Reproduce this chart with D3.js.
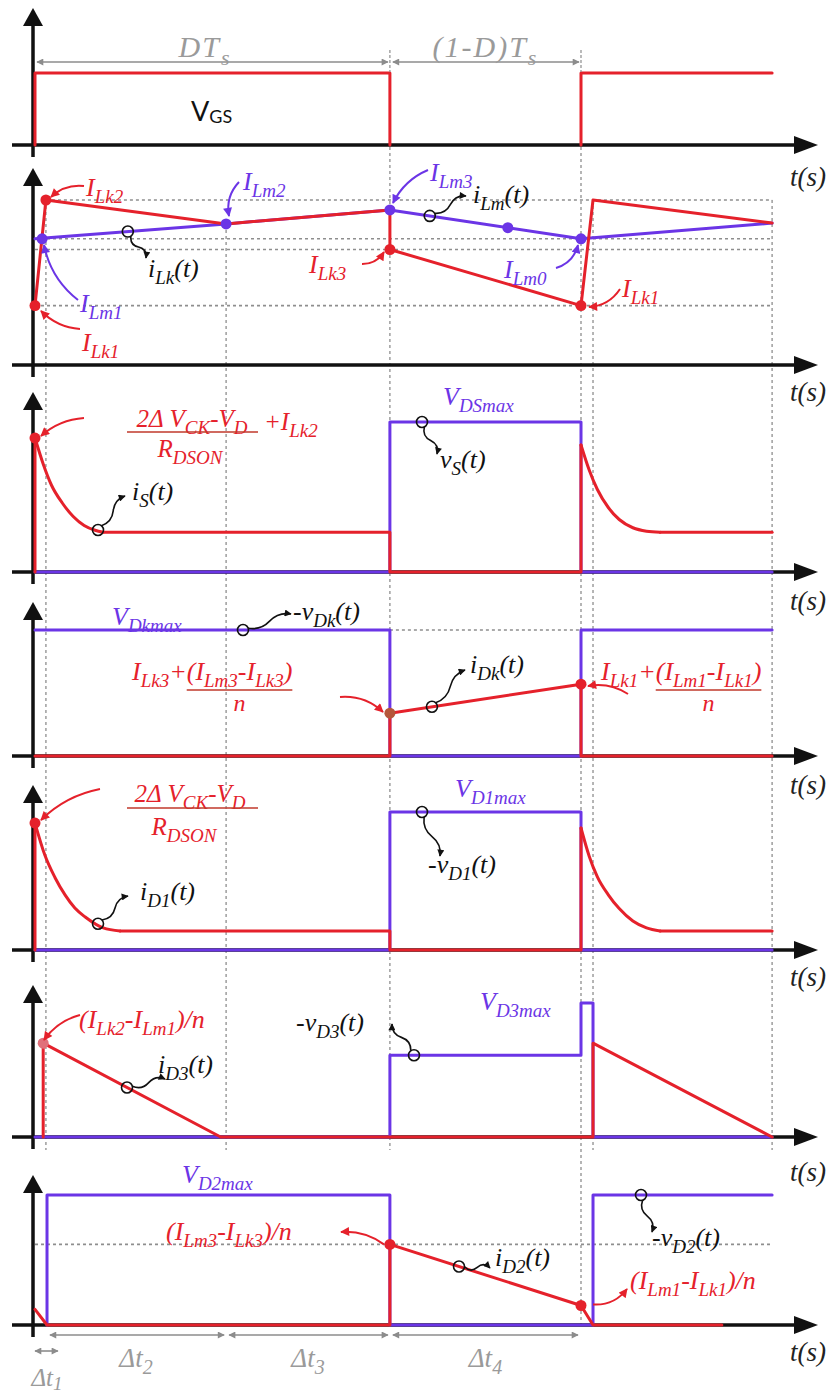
<!DOCTYPE html>
<html>
<head>
<meta charset="utf-8">
<script src="https://cdn.jsdelivr.net/npm/d3@7"></script>
<style>
  html, body { margin: 0; padding: 0; background: #fff; }
  svg { display: block; }
  text { font-family: "Liberation Serif", "Times New Roman", serif; font-style: italic; }
</style>
</head>
<body>
<svg id="chart" width="827" height="1398"></svg>
<script>
// ---------------------------------------------------------------
// Time base: one switching period Ts = 1 (normalised)
// ---------------------------------------------------------------
const tMarks = [0, 0.02, 0.35, 0.65, 1.0, 1.022, 1.35];          // t0 .. t6
const gridT = [0.02, 0.35, 0.65, 1.0, 1.022, 1.35];               // dashed instants

// Gate drive
const vGS = [[0, 0], [0, 1], [0.65, 1], [0.65, 0], null, [1, 0], [1, 1], [1.35, 1]];

// Leakage and magnetising inductor currents
const iLk = [[0, 0.36], [0.02, 1], [0.35, 0.855], [0.65, 0.94], [0.65, 0.70], [1, 0.36], [1.022, 1], [1.35, 0.86]];
const iLm = [[0, 0.765], [0.35, 0.855], [0.65, 0.94], [1, 0.765], [1.35, 0.86]];
const iLkDots = [[0, 0.36], [0.02, 1], [0.65, 0.70], [1, 0.36]];
const iLmDots = [[0.013, 0.765], [0.35, 0.855], [0.65, 0.94], [0.866, 0.832], [1, 0.765]];
const iLevels = [1, 0.765, 0.70, 0.36];

// Switch voltage / current
const vS = [[0, 0], [0.65, 0], [0.65, 1], [1, 1], [1, 0], [1.35, 0]];
const iSOn = [[0, 0.893], [0.015, 0.72], [0.03, 0.58], [0.05, 0.46], [0.07, 0.37], [0.09, 0.31], [0.11, 0.278], [0.125, 0.265]];
const iSNext = [[1, 0.847], [1.015, 0.68], [1.03, 0.55], [1.05, 0.43], [1.07, 0.35], [1.095, 0.295], [1.12, 0.272], [1.145, 0.265]];

// Diode Dk
const vDk = [[0, 1], [0.65, 1], [0.65, 0], [1, 0], [1, 1], [1.35, 1]];
const iDk = [[0, 0], [0.65, 0], [0.65, 0.34], [1, 0.57], [1, 0], [1.35, 0]];
const iDkDots = [[0.65, 0.34], [1, 0.57]];

// Diode D1
const vD1 = [[0, 0], [0.65, 0], [0.65, 1], [1, 1], [1, 0], [1.35, 0]];
const iD1On = [[0, 0.92], [0.018, 0.688], [0.037, 0.522], [0.055, 0.399], [0.073, 0.304], [0.092, 0.239], [0.125, 0.16], [0.156, 0.138]];
const iD1Next = [[1, 0.884], [1.015, 0.68], [1.03, 0.53], [1.05, 0.40], [1.07, 0.30], [1.095, 0.21], [1.12, 0.16], [1.145, 0.138]];

// Diode D3
const vD3 = [[0, 0], [0.65, 0], [0.65, 0.61], [1, 0.61], [1, 1], [1.022, 1], [1.022, 0], [1.35, 0]];
const iD3 = [[0.015, 0], [0.015, 0.70], [0.34, 0], [1.022, 0], [1.022, 0.70], [1.35, 0]];
const iD3Dots = [[0.015, 0.70]];

// Diode D2
const vD2 = [[0.022, 0], [0.022, 1], [0.65, 1], [0.65, 0], [1.022, 0], [1.022, 1], [1.35, 1]];
const iD2 = [[0, 0.12], [0.022, 0], [0.65, 0], [0.65, 0.62], [1, 0.15], [1.022, 0], [1.258, 0]];
const iD2Dots = [[0.65, 0.62], [1, 0.15]];

// ---------------------------------------------------------------
// Layout
// ---------------------------------------------------------------
const RED = '#e5212b', BLUE = '#6b35e6', INK = '#111', GRID = '#8e8e8e', DIM = '#8c8c8c';
const panels = [
  { axis: 145,  ref: 73,   tip: 8,    ts: 186 },
  { axis: 365,  ref: 200,  tip: 168,  ts: 401 },
  { axis: 572,  ref: 422,  tip: 392,  ts: 610 },
  { axis: 756,  ref: 630,  tip: 602,  ts: 794 },
  { axis: 950,  ref: 812,  tip: 785,  ts: 986 },
  { axis: 1137, ref: 1003, tip: 985,  ts: 1181 },
  { axis: 1325, ref: 1195, tip: 1175, ts: 1361 }
];

const x = d3.scaleLinear().domain([0, 1]).range([35, 581]);
const ys = panels.map(p => d3.scaleLinear().domain([0, 1]).range([p.axis, p.ref]));

const svg = d3.select('#chart');
const defs = svg.append('defs');
function marker(id, color, w, h) {
  defs.append('marker').attr('id', id)
    .attr('viewBox', '0 0 10 10').attr('refX', 9).attr('refY', 5)
    .attr('markerUnits', 'userSpaceOnUse').attr('markerWidth', w).attr('markerHeight', h)
    .attr('orient', 'auto-start-reverse')
    .append('path').attr('d', 'M0,0 L10,5 L0,10 Z').attr('fill', color);
}
marker('mR', RED, 10, 9);
marker('mB', BLUE, 10, 9);
marker('mK', INK, 8, 7);
marker('mG', DIM, 8, 7);

// piecewise-linear lookup on a trace
function at(pts, t) {
  for (let i = 0; i < pts.length - 1; i++) {
    const a = pts[i], b = pts[i + 1];
    if (!a || !b || a[0] === b[0]) continue;
    if (t >= a[0] && t <= b[0]) return a[1] + (b[1] - a[1]) * (t - a[0]) / (b[0] - a[0]);
  }
  return 0;
}

function trace(g, y, pts, color, curve) {
  g.append('path').datum(pts)
    .attr('d', d3.line().defined(d => d).x(d => x(d[0])).y(d => y(d[1])).curve(curve || d3.curveLinear))
    .attr('fill', 'none').attr('stroke', color).attr('stroke-width', 3)
    .attr('stroke-linejoin', 'round').attr('stroke-linecap', 'round');
}
function dots(g, y, pts, color) {
  g.selectAll(null).data(pts).join('circle')
    .attr('cx', d => x(d[0])).attr('cy', d => y(d[1])).attr('r', 5.5).attr('fill', color);
}
// a trace with exponential decays: straight parts plus smooth decay arcs
function decayTrace(g, y, on, next, color) {
  const lvl = on[on.length - 1][1];
  const lvl2 = next[next.length - 1][1];
  trace(g, y, [[0, 0], on[0]], color);
  trace(g, y, on, color, d3.curveMonotoneX);
  trace(g, y, [on[on.length - 1], [0.65, lvl], [0.65, 0], [1, 0], next[0]], color);
  trace(g, y, next, color, d3.curveMonotoneX);
  trace(g, y, [next[next.length - 1], [1.35, lvl2]], color);
}

// text with subscripts: parts starting with '_' are lowered
function rich(g, px, py, parts, o = {}) {
  const size = o.size || 26, sub = o.sub || Math.round(size * 0.74), shift = o.shift != null ? o.shift : Math.round(size * 0.26);
  const t = g.append('text').attr('x', px).attr('y', py).attr('font-size', size)
    .attr('fill', o.color || INK).attr('text-anchor', o.anchor || 'start');
  if (o.family) t.style('font-family', o.family);
  if (o.upright) t.style('font-style', 'normal');
  if (o.spacing) t.attr('letter-spacing', o.spacing);
  let low = false;
  parts.forEach(p => {
    const isSub = p[0] === '_';
    const s = t.append('tspan').text(isSub ? p.slice(1) : p);
    if (isSub) s.attr('font-size', sub);
    if (isSub && !low) s.attr('dy', shift);
    if (!isSub && low) s.attr('dy', -shift);
    low = isSub;
  });
  return t;
}

// ring on a trace with a wavy lead to its name
function pointer(g, c, end) {
  g.append('circle').attr('cx', c[0]).attr('cy', c[1]).attr('r', 5.5)
    .attr('fill', 'none').attr('stroke', INK).attr('stroke-width', 1.6);
  const dx = end[0] - c[0], dy = end[1] - c[1], L = Math.hypot(dx, dy);
  const ux = dx / L, uy = dy / L;
  const s = [c[0] + ux * 5.5, c[1] + uy * 5.5];
  const ex = end[0] - s[0], ey = end[1] - s[1];
  const c1 = [s[0] + ex * 0.25 - uy * 6, s[1] + ey * 0.25 + ux * 6];
  const m = [s[0] + ex * 0.5, s[1] + ey * 0.5];
  g.append('path').attr('d', `M${s}Q${c1} ${m}T${end}`)
    .attr('fill', 'none').attr('stroke', INK).attr('stroke-width', 1.6).attr('marker-end', 'url(#mK)');
}

// curved call-out arrow
function bent(g, from, to, bend, color) {
  const m = [(from[0] + to[0]) / 2, (from[1] + to[1]) / 2];
  const dx = to[0] - from[0], dy = to[1] - from[1], L = Math.hypot(dx, dy);
  const c = [m[0] - dy / L * bend, m[1] + dx / L * bend];
  g.append('path').attr('d', `M${from}Q${c} ${to}`)
    .attr('fill', 'none').attr('stroke', color).attr('stroke-width', 2)
    .attr('marker-end', color === RED ? 'url(#mR)' : 'url(#mB)');
}

// dimension line with arrows on both ends
function dimension(g, x1, x2, y) {
  g.append('line').attr('x1', x1).attr('x2', x2).attr('y1', y).attr('y2', y)
    .attr('stroke', DIM).attr('stroke-width', 1.6)
    .attr('marker-start', 'url(#mG)').attr('marker-end', 'url(#mG)');
}

// ---------------------------------------------------------------
// Grid
// ---------------------------------------------------------------
const grid = svg.append('g');
const gridTop = [ys[1](1), ys[1](0.855), 147, 147, ys[1](1), ys[1](1)];
const gridBottom = [1150, 1150, 1150, 1325, 1150, 1150];
gridT.forEach((t, i) => {
  grid.append('line').attr('x1', x(t)).attr('x2', x(t)).attr('y1', gridTop[i]).attr('y2', gridBottom[i])
    .attr('stroke', GRID).attr('stroke-width', 1.3).attr('stroke-dasharray', '3,3');
});
iLevels.forEach((v, i) => {
  grid.append('line').attr('x1', x(i === 0 ? 0.02 : 0)).attr('x2', x(1.35))
    .attr('y1', ys[1](v)).attr('y2', ys[1](v))
    .attr('stroke', GRID).attr('stroke-width', 1.6).attr('stroke-dasharray', '3,3');
});
grid.append('line').attr('x1', x(0.65)).attr('x2', x(1)).attr('y1', ys[3](1)).attr('y2', ys[3](1))
  .attr('stroke', GRID).attr('stroke-width', 1.6).attr('stroke-dasharray', '3,3');
grid.append('line').attr('x1', x(0)).attr('x2', x(1.35)).attr('y1', ys[6](0.62)).attr('y2', ys[6](0.62))
  .attr('stroke', GRID).attr('stroke-width', 1.6).attr('stroke-dasharray', '3,3');

// ---------------------------------------------------------------
// Axes
// ---------------------------------------------------------------
panels.forEach(p => {
  const g = svg.append('g');
  g.append('line').attr('x1', 12).attr('x2', 798).attr('y1', p.axis).attr('y2', p.axis)
    .attr('stroke', INK).attr('stroke-width', 3.5);
  g.append('path').attr('d', `M818,${p.axis} L794,${p.axis - 9} L794,${p.axis + 9} Z`).attr('fill', INK);
  g.append('line').attr('x1', 33).attr('x2', 33).attr('y1', p.axis + 12).attr('y2', p.tip + 14)
    .attr('stroke', INK).attr('stroke-width', 3.5);
  g.append('path').attr('d', `M33,${p.tip} L23,${p.tip + 18} L43,${p.tip + 18} Z`).attr('fill', INK);
  rich(g, 826, p.ts, ['t(s)'], { size: 27, anchor: 'end', color: '#222' });
});

// ---------------------------------------------------------------
// Panel 1 : gate signal
// ---------------------------------------------------------------
{
  const g = svg.append('g'), y = ys[0];
  trace(g, y, vGS, RED);
  dimension(g, x(0) + 2, x(0.65) - 2, 62);
  dimension(g, x(0.65) + 3, x(1) - 2, 62);
  [0.65, 1].forEach(t => g.append('line').attr('x1', x(t)).attr('x2', x(t)).attr('y1', 50).attr('y2', 72)
    .attr('stroke', GRID).attr('stroke-width', 1.2).attr('stroke-dasharray', '3,2'));
  rich(g, 205, 57, ['DT', '_s'], { size: 30, color: '#9a9a9a', anchor: 'middle', spacing: 2 });
  rich(g, (x(0.65) + x(1)) / 2, 57, ['(1-D)T', '_s'], { size: 30, color: '#9a9a9a', anchor: 'middle', spacing: 2 });
  rich(g, 191, 121, ['V', '_GS'], { size: 27, sub: 18, shift: 2, color: INK, family: 'Lato, "Open Sans", sans-serif', upright: true });
}

// ---------------------------------------------------------------
// Panel 2 : iLk and iLm
// ---------------------------------------------------------------
{
  const g = svg.append('g'), y = ys[1];
  trace(g, y, iLm, BLUE);
  trace(g, y, iLk, RED);
  dots(g, y, iLkDots, RED);
  dots(g, y, iLmDots, BLUE);

  rich(g, 86, 196, ['I', '_Lk2'], { color: RED });
  bent(g, [84, 186], [51, 197], 8, RED);
  rich(g, 243, 190, ['I', '_Lm2'], { color: BLUE });
  bent(g, [239, 182], [229, 216], 9, BLUE);
  rich(g, 148, 277, ['i', '_Lk', '(t)'], { color: INK });
  pointer(g, [x(0.17), y(at(iLm, 0.17))], [146, 258]);
  rich(g, 80, 312, ['I', '_Lm1'], { color: BLUE });
  bent(g, [78, 300], [44, 245], -12, BLUE);
  rich(g, 82, 351, ['I', '_Lk1'], { color: RED });
  bent(g, [80, 329], [41, 311], -8, RED);

  rich(g, 430, 181, ['I', '_Lm3'], { color: BLUE });
  bent(g, [428, 170], [393, 203], 9, BLUE);
  rich(g, 473, 203, ['i', '_Lm', '(t)'], { color: INK });
  pointer(g, [x(0.723), y(at(iLm, 0.723))], [466, 196]);
  rich(g, 309, 273, ['I', '_Lk3'], { color: RED });
  bent(g, [362, 264], [384, 252], 7, RED);
  rich(g, 504, 278, ['I', '_Lm0'], { color: BLUE });
  bent(g, [556, 268], [578, 245], 9, BLUE);
  rich(g, 622, 297, ['I', '_Lk1'], { color: RED });
  bent(g, [620, 289], [589, 307], -9, RED);
}

// ---------------------------------------------------------------
// Panel 3 : switch
// ---------------------------------------------------------------
{
  const g = svg.append('g'), y = ys[2];
  trace(g, y, vS, BLUE);
  decayTrace(g, y, iSOn, iSNext, RED);
  dots(g, y, [iSOn[0]], RED);

  rich(g, 192, 427, ['2Δ V', '_CK', '-V', '_D'], { color: RED, anchor: 'middle', size: 25 });
  g.append('line').attr('x1', 127).attr('x2', 258).attr('y1', 432).attr('y2', 432).attr('stroke', '#c0392b').attr('stroke-width', 1.6);
  rich(g, 190, 457, ['R', '_DSON'], { color: RED, anchor: 'middle', size: 25 });
  rich(g, 264, 430, ['+I', '_Lk2'], { color: RED, size: 25 });
  bent(g, [84, 418], [41, 436], 8, RED);

  rich(g, 443, 405, ['V', '_DSmax'], { color: BLUE });
  rich(g, 440, 468, ['v', '_S', '(t)'], { color: INK });
  pointer(g, [422, y(1)], [437, 454]);
  rich(g, 132, 500, ['i', '_S', '(t)'], { color: INK });
  pointer(g, [98, y(0.28)], [125, 496]);
}

// ---------------------------------------------------------------
// Panel 4 : diode Dk
// ---------------------------------------------------------------
{
  const g = svg.append('g'), y = ys[3];
  trace(g, y, vDk, BLUE);
  trace(g, y, iDk, RED);
  dots(g, y, [iDkDots[0]], '#b5563a');
  dots(g, y, [iDkDots[1]], RED);

  rich(g, 112, 625, ['V', '_Dkmax'], { color: BLUE });
  rich(g, 293, 620, ['-v', '_Dk', '(t)'], { color: INK });
  pointer(g, [243, y(1)], [291, 614]);
  rich(g, 470, 673, ['i', '_Dk', '(t)'], { color: INK });
  pointer(g, [x(0.727), y(at(iDk, 0.727))], [465, 670]);

  // I_Lk + (I_Lm - I_Lk)/n call-outs with a stacked denominator
  function stacked(px, py, head, num) {
    const a = rich(g, px, py, head, { color: RED });
    const w1 = a.node().getComputedTextLength();
    const b = rich(g, px + w1, py, num, { color: RED });
    const w2 = b.node().getComputedTextLength();
    g.append('line').attr('x1', px + w1).attr('x2', px + w1 + w2).attr('y1', py + 10).attr('y2', py + 10)
      .attr('stroke', '#c0392b').attr('stroke-width', 1.6);
    rich(g, px + w1 + w2 / 2, py + 31, ['n'], { color: RED, anchor: 'middle', size: 24 });
  }
  stacked(132, 680, ['I', '_Lk3', '+'], ['(I', '_Lm3', '-I', '_Lk3', ')']);
  bent(g, [340, 697], [383, 712], -10, RED);
  stacked(601, 680, ['I', '_Lk1', '+'], ['(I', '_Lm1', '-I', '_Lk1', ')']);
  bent(g, [628, 694], [588, 686], 8, RED);
}

// ---------------------------------------------------------------
// Panel 5 : diode D1
// ---------------------------------------------------------------
{
  const g = svg.append('g'), y = ys[4];
  trace(g, y, vD1, BLUE);
  decayTrace(g, y, iD1On, iD1Next, RED);
  dots(g, y, [iD1On[0]], RED);

  rich(g, 190, 802, ['2Δ V', '_CK', '-V', '_D'], { color: RED, anchor: 'middle', size: 25 });
  g.append('line').attr('x1', 127).attr('x2', 258).attr('y1', 808).attr('y2', 808).attr('stroke', '#c0392b').attr('stroke-width', 1.6);
  rich(g, 184, 835, ['R', '_DSON'], { color: RED, anchor: 'middle', size: 25 });
  bent(g, [100, 789], [41, 820], 10, RED);

  rich(g, 455, 797, ['V', '_D1max'], { color: BLUE });
  rich(g, 428, 873, ['-v', '_D1', '(t)'], { color: INK });
  pointer(g, [422, y(1)], [440, 856]);
  rich(g, 140, 900, ['i', '_D1', '(t)'], { color: INK });
  pointer(g, [98, y(0.19)], [128, 896]);
}

// ---------------------------------------------------------------
// Panel 6 : diode D3
// ---------------------------------------------------------------
{
  const g = svg.append('g'), y = ys[5];
  trace(g, y, vD3, BLUE);
  trace(g, y, iD3, RED);
  dots(g, y, iD3Dots, '#e0707a');

  rich(g, 79, 1028, ['(I', '_Lk2', '-I', '_Lm1', ')/n'], { color: RED });
  bent(g, [80, 1015], [44, 1040], 8, RED);
  rich(g, 296, 1031, ['-v', '_D3', '(t)'], { color: INK });
  pointer(g, [414, y(0.61)], [392, 1024]);
  rich(g, 158, 1073, ['i', '_D3', '(t)'], { color: INK });
  pointer(g, [127, y(at(iD3, 0.1685))], [165, 1079]);
  rich(g, 480, 1010, ['V', '_D3max'], { color: BLUE });
}

// ---------------------------------------------------------------
// Panel 7 : diode D2
// ---------------------------------------------------------------
{
  const g = svg.append('g'), y = ys[6];
  trace(g, y, vD2, BLUE);
  trace(g, y, iD2, RED);
  dots(g, y, iD2Dots, RED);

  rich(g, 182, 1183, ['V', '_D2max'], { color: BLUE });
  rich(g, 166, 1240, ['(I', '_Lm3', '-I', '_Lk3', ')/n'], { color: RED });
  bent(g, [x(0.65) - 6, y(0.62)], [341, 1232], 8, RED);
  rich(g, 495, 1266, ['i', '_D2', '(t)'], { color: INK });
  pointer(g, [459, y(at(iD2, (459 - 35) / 546))], [490, 1268]);
  rich(g, 630, 1289, ['(I', '_Lm1', '-I', '_Lk1', ')/n'], { color: RED });
  bent(g, [x(1) + 12, y(0.15) - 1], [627, 1289], 10, RED);
  rich(g, 652, 1246, ['-v', '_D2', '(t)'], { color: INK });
  pointer(g, [641, y(1)], [652, 1232]);

  // interval durations along the bottom
  const dy = 1335;
  dimension(g, x(tMarks[1]) + 4, x(tMarks[2]) - 2, dy);
  dimension(g, x(tMarks[2]) + 3, x(tMarks[3]) - 2, dy);
  dimension(g, x(tMarks[3]) + 3, x(tMarks[4]) - 3, dy);
  dimension(g, x(tMarks[0]), x(tMarks[1]) + 12, 1351);
  const lab = { size: 27, color: '#9a9a9a', anchor: 'middle' };
  rich(g, (x(tMarks[1]) + x(tMarks[2])) / 2, 1367, ['Δt', '_2'], lab);
  rich(g, (x(tMarks[2]) + x(tMarks[3])) / 2, 1367, ['Δt', '_3'], lab);
  rich(g, (x(tMarks[3]) + x(tMarks[4])) / 2, 1367, ['Δt', '_4'], lab);
  rich(g, 47, 1386, ['Δt', '_1'], { size: 25, color: '#9a9a9a', anchor: 'middle', shift: 4 });
}
</script>
</body>
</html>
